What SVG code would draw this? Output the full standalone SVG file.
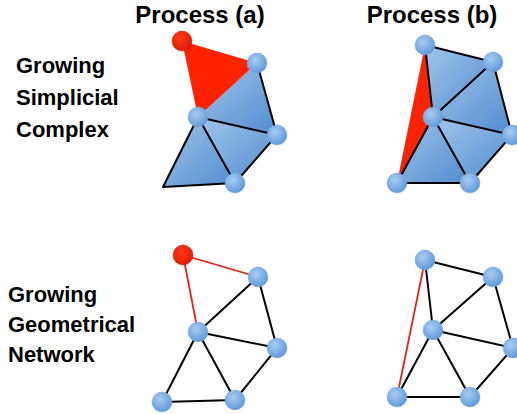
<svg xmlns="http://www.w3.org/2000/svg" width="517" height="414" viewBox="0 0 517 414">
<defs>
<linearGradient id="tri" x1="0" y1="0" x2="1" y2="1">
<stop offset="0" stop-color="#a3c6ec"/>
<stop offset="1" stop-color="#4f8ccf"/>
</linearGradient>
<radialGradient id="nd" cx="0.4" cy="0.35" r="0.7">
<stop offset="0" stop-color="#a9cdf2"/>
<stop offset="1" stop-color="#5a96d8"/>
</radialGradient>
<radialGradient id="rd" cx="0.4" cy="0.35" r="0.7">
<stop offset="0" stop-color="#ff3a1a"/>
<stop offset="1" stop-color="#e01800"/>
</radialGradient>
</defs>
<style>
text{font-family:"Liberation Sans",Arial,sans-serif;font-weight:bold;fill:#000}
.t{font-size:24px;text-anchor:middle}
.l{font-size:22px}
.b{fill:url(#tri);stroke:none}
.r{fill:#ff2200;stroke:none}
.e{stroke:#000;stroke-width:2;fill:none;stroke-linecap:round}
.re{stroke:#e8221a;stroke-width:1.8;fill:none}
.n{fill:url(#nd);stroke:#7aa9dc;stroke-width:0.5}
.rn{fill:url(#rd);stroke:#c41500;stroke-width:0.5}
</style>
<g id="titles">
<text class="t" x="200" y="23">Process (a)</text>
<text class="t" x="432" y="23">Process (b)</text>
<text class="l" x="16" y="73">Growing</text>
<text class="l" x="16" y="105">Simplicial</text>
<text class="l" x="16" y="137">Complex</text>
<text class="l" x="8" y="302">Growing</text>
<text class="l" x="8" y="332">Geometrical</text>
<text class="l" x="8" y="362">Network</text>
</g>
<g id="complex-a">
<polygon class="b" points="257,63 198,117 277,135"/>
<polygon class="b" points="198,117 277,135 235,183"/>
<polygon class="b" points="198,117 235,183 163,187"/>
<polygon class="r" points="182,41 257,63 198,117"/>
</g>
<g id="complex-b">
<polygon class="b" points="425,45 493,62 433,117"/>
<polygon class="b" points="493,62 433,117 512,135"/>
<polygon class="b" points="433,117 512,135 470,183"/>
<polygon class="b" points="433,117 470,183 397,183"/>
<polygon class="r" points="425,45 433,117 397,183"/>
</g>
<g id="connectors">
<path class="e" d="M257,63 L277,135 M198,117 L277,135 M277,135 L235,183 M198,117 L235,183 M163,187 L235,183 M198,117 L163,187"/>
<path class="e" d="M425,45 L493,62 M493,62 L433,117 M425,45 L433,117 M493,62 L512,135 M433,117 L512,135 M512,135 L470,183 M433,117 L470,183 M470,183 L397,183 M433,117 L397,183"/>
<path class="re" d="M183,255 L258,277 M183,255 L198,332"/>
<path class="e" d="M258,277 L198,332 M258,277 L277,348 M198,332 L277,348 M198,332 L162,402 M198,332 L235,400 M277,348 L235,400 M162,402 L235,400"/>
<path class="re" d="M425,260 L397,397"/>
<path class="e" d="M425,260 L493,277 M425,260 L433,330 M493,277 L433,330 M493,277 L513,348 M433,330 L513,348 M433,330 L470,397 M433,330 L397,397 M513,348 L470,397 M397,397 L470,397"/>
</g>
<g id="nodes-a-top">
<circle class="rn" cx="182" cy="41" r="10"/>
<circle class="n" cx="257" cy="63" r="10"/>
<circle class="n" cx="198" cy="117" r="10"/>
<circle class="n" cx="277" cy="135" r="10"/>
<circle class="n" cx="235" cy="183" r="10"/>
</g>
<g id="nodes-b-top">
<circle class="n" cx="425" cy="45" r="10"/>
<circle class="n" cx="493" cy="62" r="10"/>
<circle class="n" cx="433" cy="117" r="10"/>
<circle class="n" cx="512" cy="135" r="10"/>
<circle class="n" cx="470" cy="183" r="10"/>
<circle class="n" cx="397" cy="183" r="10"/>
</g>
<g id="nodes-a-bottom">
<circle class="rn" cx="183" cy="255" r="10"/>
<circle class="n" cx="258" cy="277" r="10"/>
<circle class="n" cx="198" cy="332" r="10"/>
<circle class="n" cx="277" cy="348" r="10"/>
<circle class="n" cx="235" cy="400" r="10"/>
<circle class="n" cx="162" cy="402" r="10"/>
</g>
<g id="nodes-b-bottom">
<circle class="n" cx="425" cy="260" r="10"/>
<circle class="n" cx="493" cy="277" r="10"/>
<circle class="n" cx="433" cy="330" r="10"/>
<circle class="n" cx="513" cy="348" r="10"/>
<circle class="n" cx="470" cy="397" r="10"/>
<circle class="n" cx="397" cy="397" r="10"/>
</g>
</svg>
